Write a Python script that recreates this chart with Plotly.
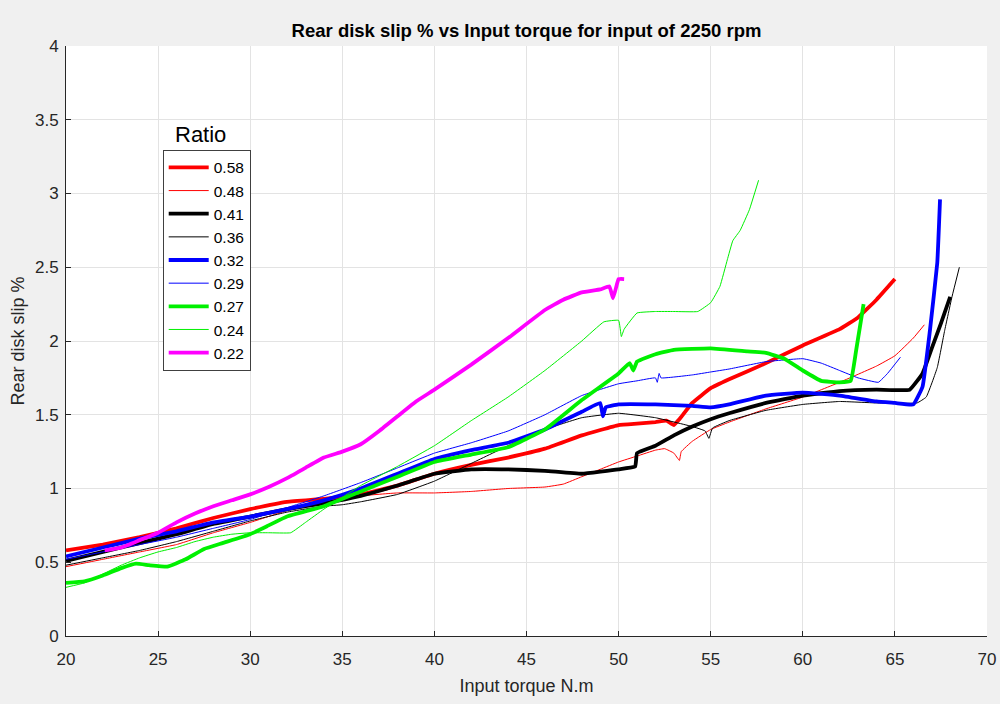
import plotly.graph_objects as go

# Ratio 0.58 (thick red)
x_058 = [20, 22, 24, 26, 28, 30, 32, 34, 36, 38, 40, 42, 44, 46, 48, 50, 51, 52, 52.6, 53, 53.3, 54, 55, 56, 58, 60, 62, 63, 64, 65]
y_058 = [0.58, 0.62, 0.67, 0.73, 0.80, 0.86, 0.91, 0.93, 0.96, 1.02, 1.10, 1.16, 1.21, 1.27, 1.36, 1.43, 1.44, 1.45, 1.46, 1.43, 1.47, 1.58, 1.68, 1.74, 1.85, 1.97, 2.08, 2.16, 2.28, 2.42]
# Ratio 0.48 (thin red)
x_048 = [20, 22, 24, 26, 28, 30, 32, 34, 36, 38, 40, 42, 44, 46, 47, 48, 49, 50, 51, 52, 52.5, 53, 53.3, 53.4, 54, 55, 56, 58, 60, 62, 64, 65, 66, 66.6]
y_048 = [0.47, 0.52, 0.57, 0.62, 0.70, 0.77, 0.85, 0.90, 0.95, 0.97, 0.97, 0.98, 1.00, 1.01, 1.03, 1.08, 1.13, 1.18, 1.22, 1.26, 1.27, 1.24, 1.19, 1.25, 1.32, 1.40, 1.45, 1.54, 1.62, 1.72, 1.83, 1.90, 2.02, 2.11]
# Ratio 0.41 (thick black)
x_041 = [20, 22, 24, 26, 28, 30, 32, 34, 36, 38, 40, 42, 44, 46, 48, 50, 50.9, 51.0, 52, 53, 54, 55, 56, 58, 60, 62, 64, 65.8, 66.5, 67, 67.5, 68]
y_041 = [0.51, 0.57, 0.63, 0.69, 0.76, 0.81, 0.86, 0.90, 0.95, 1.02, 1.10, 1.13, 1.13, 1.12, 1.10, 1.13, 1.15, 1.24, 1.29, 1.36, 1.42, 1.47, 1.51, 1.58, 1.63, 1.66, 1.67, 1.67, 1.78, 1.95, 2.12, 2.30]
# Ratio 0.36 (thin black)
x_036 = [20, 22, 24, 26, 28, 30, 32, 34, 35, 36, 38, 40, 42, 44, 46, 48, 50, 52, 54, 54.7, 54.9, 55.1, 56, 58, 60, 62, 64, 66.2, 66.7, 67.3, 67.7, 68.1, 68.5]
y_036 = [0.48, 0.53, 0.58, 0.64, 0.71, 0.78, 0.84, 0.88, 0.89, 0.91, 0.96, 1.05, 1.17, 1.29, 1.40, 1.48, 1.51, 1.48, 1.42, 1.39, 1.34, 1.41, 1.46, 1.53, 1.57, 1.59, 1.58, 1.58, 1.62, 1.82, 2.07, 2.30, 2.50]
# Ratio 0.32 (thick blue)
x_032 = [20, 22, 24, 26, 28, 30, 32, 34, 36, 38, 40, 42, 44, 46, 48, 49, 49.15, 49.3, 50, 52, 54, 55, 56, 58, 60, 62, 64, 65, 66, 66.5, 66.9, 67.3, 67.45]
y_032 = [0.54, 0.60, 0.66, 0.71, 0.77, 0.81, 0.86, 0.92, 1.00, 1.10, 1.20, 1.26, 1.31, 1.40, 1.52, 1.58, 1.49, 1.55, 1.57, 1.57, 1.56, 1.55, 1.57, 1.63, 1.65, 1.63, 1.59, 1.58, 1.57, 1.69, 2.07, 2.53, 2.96]
# Ratio 0.29 (thin blue)
x_029 = [20, 22, 24, 26, 28, 30, 32, 34, 36, 38, 40, 42, 44, 46, 48, 50, 51, 52, 52.1, 52.2, 52.3, 54, 55, 56, 58, 60, 61, 62, 63, 64.1, 64.6, 65.3]
y_029 = [0.52, 0.57, 0.62, 0.67, 0.73, 0.79, 0.87, 0.95, 1.04, 1.14, 1.24, 1.31, 1.39, 1.50, 1.63, 1.71, 1.73, 1.75, 1.72, 1.78, 1.75, 1.77, 1.79, 1.81, 1.86, 1.88, 1.85, 1.80, 1.75, 1.72, 1.78, 1.89]
# Ratio 0.27 (thick green)
x_027 = [20, 21, 22, 23, 23.8, 24.5, 25.5, 26.5, 27.5, 28.5, 30, 31, 32, 34, 36, 38, 40, 42, 44, 46, 48, 50, 50.6, 50.8, 51, 52, 53, 55, 57, 58, 59, 60, 61, 62, 62.6, 62.9, 63.3]
y_027 = [0.36, 0.37, 0.41, 0.46, 0.49, 0.48, 0.47, 0.52, 0.59, 0.63, 0.69, 0.75, 0.81, 0.88, 0.98, 1.08, 1.18, 1.23, 1.28, 1.40, 1.60, 1.78, 1.85, 1.80, 1.86, 1.91, 1.94, 1.95, 1.93, 1.92, 1.88, 1.80, 1.73, 1.72, 1.73, 1.94, 2.25]
# Ratio 0.24 (thin green)
x_024 = [20, 21, 22, 23, 24, 25, 26, 27, 28, 29, 30, 31, 32.2, 33, 34, 35, 36, 38, 40, 42, 44, 46, 48, 49.2, 50.0, 50.15, 50.3, 51, 52, 53, 54.3, 55, 55.5, 55.9, 56.2, 56.6, 57.1, 57.6]
y_024 = [0.33, 0.36, 0.42, 0.48, 0.53, 0.57, 0.60, 0.64, 0.67, 0.69, 0.70, 0.70, 0.70, 0.77, 0.86, 0.94, 1.02, 1.15, 1.29, 1.46, 1.62, 1.80, 2.00, 2.13, 2.14, 2.03, 2.08, 2.19, 2.20, 2.20, 2.20, 2.26, 2.37, 2.55, 2.68, 2.75, 2.89, 3.09]
# Ratio 0.22 (thick magenta)
x_022 = [22.1, 23, 24, 25, 26, 27, 28, 29, 30, 31, 32, 33, 34, 35, 36, 37, 38, 39, 40, 42, 44, 46, 47, 48, 49, 49.5, 49.7, 49.9, 50.0, 50.3]
y_022 = [0.58, 0.60, 0.65, 0.70, 0.77, 0.83, 0.88, 0.92, 0.96, 1.01, 1.07, 1.14, 1.21, 1.25, 1.30, 1.39, 1.49, 1.59, 1.67, 1.84, 2.02, 2.21, 2.28, 2.33, 2.35, 2.37, 2.29, 2.38, 2.42, 2.42]

series = [
    ("0.58", x_058, y_058, "#ff0000", 3.8),
    ("0.48", x_048, y_048, "#ff0000", 1),
    ("0.41", x_041, y_041, "#000000", 3.8),
    ("0.36", x_036, y_036, "#000000", 1),
    ("0.32", x_032, y_032, "#0000ff", 3.8),
    ("0.29", x_029, y_029, "#0000ff", 1),
    ("0.27", x_027, y_027, "#00f000", 3.8),
    ("0.24", x_024, y_024, "#00f000", 1),
    ("0.22", x_022, y_022, "#ff00ff", 3.8),
]

FONT = "Liberation Sans, Arial"

fig = go.Figure()
for name, xs, ys, color, w in series:
    fig.add_trace(go.Scatter(x=xs, y=ys, mode="lines", name=name,
                             line=dict(color=color, width=w, shape="spline", smoothing=0.3)))

axis_common = dict(
    showgrid=True, gridcolor="#e3e3e3", gridwidth=1,
    showline=True, linecolor="#262626", linewidth=1,
    ticks="inside", ticklen=5, tickcolor="#262626",
    tickfont=dict(family=FONT, size=17, color="#262626"),
    zeroline=False, mirror=False,
)

fig.update_layout(
    width=1000, height=704,
    paper_bgcolor="#f0f0f0", plot_bgcolor="#ffffff",
    margin=dict(l=66, r=13, t=46, b=68, autoexpand=False),
    title=dict(text="<b>Rear disk slip % vs Input torque for input of 2250 rpm</b>",
               x=0.5265, xanchor="center", y=0.957, yanchor="middle",
               font=dict(family=FONT, size=18.5, color="#000000")),
    xaxis=dict(range=[20, 70], dtick=5, tick0=20, ticklabelstandoff=8,
               title=dict(text="Input torque N.m", standoff=10,
                          font=dict(family=FONT, size=18, color="#262626")),
               **axis_common),
    yaxis=dict(range=[0, 4], dtick=0.5, tick0=0, ticklabelstandoff=3,
               title=dict(text="Rear disk slip %", standoff=5,
                          font=dict(family=FONT, size=18, color="#262626")),
               **axis_common),
    legend=dict(x=0.105, y=0.824, xanchor="left", yanchor="top",
                bgcolor="#ffffff", bordercolor="#404040", borderwidth=1,
                font=dict(family=FONT, size=15.5, color="#000000"),
                itemwidth=40, tracegroupgap=0),
    showlegend=True,
    annotations=[dict(text="Ratio", x=0.116, y=0.826, xref="paper", yref="paper",
                      xanchor="left", yanchor="bottom", showarrow=False,
                      font=dict(family=FONT, size=22, color="#000000"))],
)

fig.write_html("out.html", config={"displayModeBar": False},
               post_script="document.body.style.margin='0';document.body.style.background='#f0f0f0';")
